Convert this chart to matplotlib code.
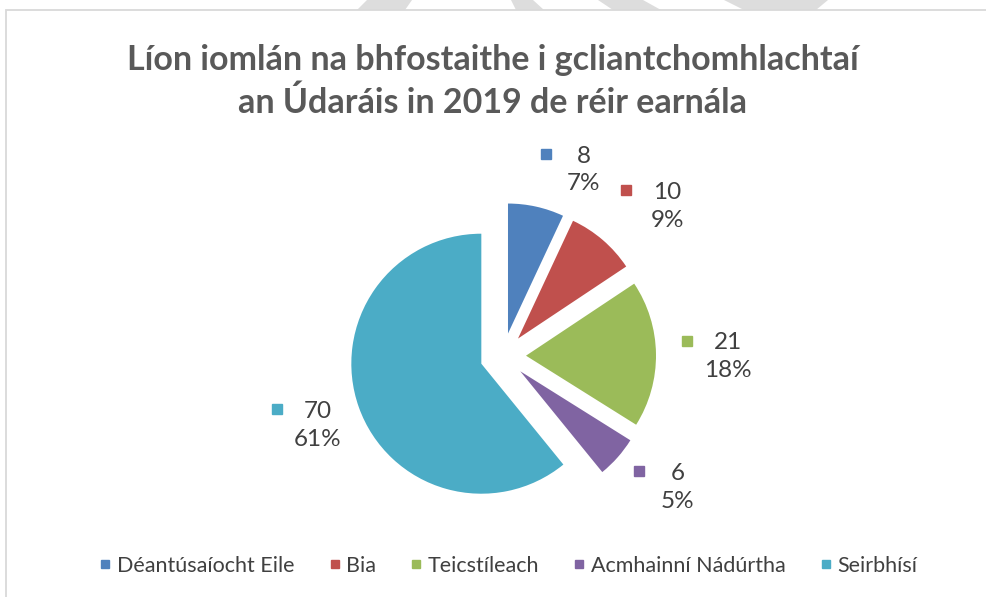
import numpy as np
import matplotlib
matplotlib.use("Agg")
import matplotlib.pyplot as plt
from matplotlib.lines import Line2D
from matplotlib.patches import Rectangle, Polygon

# data
sectors = ["Déantúsaíocht Eile", "Bia", "Teicstíleach", "Acmhainní Nádúrtha", "Seirbhísí"]
employees = [8, 10, 21, 6, 70]
colors = ["#4F81BD", "#C0504D", "#9BBB59", "#8064A2", "#4BACC6"]
title_lines = ["Líon iomlán na bhfostaithe i gcliantchomhlachtaí",
               "an Údaráis in 2019 de réir earnála"]

W, H = 986, 597
plt.rcParams['font.family'] = ['Lato', 'DejaVu Sans']

fig = plt.figure(figsize=(W / 100, H / 100), dpi=100)
fig.patch.set_facecolor("white")

# faint watermark pieces peeking out above the chart frame (pixel coords, y down)
watermark = [
    [(367, 0), (412, 0), (405, 10), (357, 10)],
    [(511, 0), (533, 0), (544, 10), (516, 10)],
    [(598, 0), (643, 0), (661, 10), (613, 10)],
    [(724, 0), (828, 0), (816, 10), (744, 10)],
]
for poly in watermark:
    pts = [(x / W, 1 - y / H) for x, y in poly]
    fig.patches.append(Polygon(pts, closed=True, transform=fig.transFigure,
                               facecolor="#DDDDDD", edgecolor="none", zorder=0))

# chart frame
fig.patches.append(Rectangle((6 / W, -0.05), 1.1, 1 - 10 / H + 0.05,
                             transform=fig.transFigure, facecolor="white",
                             edgecolor="#D9D9D9", linewidth=1.3, zorder=1))

ax = fig.add_axes([0, 0, 1, 1])
ax.set_zorder(2)
ax.patch.set_alpha(0)

R = 130
cx, cy = 503, H - 356
gap = 23

wedges, _ = ax.pie(employees, colors=colors, startangle=90, counterclock=False,
                   radius=R, center=(cx, cy), explode=[gap] * len(employees),
                   wedgeprops=dict(linewidth=0))

ax.set_xlim(0, W)
ax.set_ylim(0, H)
ax.set_aspect('equal')
ax.axis('off')

# data labels (value + percentage with a legend key), "best fit" style
total = sum(employees)
label_dist = [1.56, 1.71, 1.73, 1.68, 1.52]
label_nudge = [11, 7, 1, -4.5, -1]
for w, v, c, d, nd in zip(wedges, employees, colors, label_dist, label_nudge):
    mid = np.deg2rad((w.theta1 + w.theta2) / 2 - nd)
    lx = cx + d * R * np.cos(mid)
    ly = cy + d * R * np.sin(mid)
    pct = round(100 * v / total)
    ax.text(lx, ly, f"{v}\n{pct}%", ha='center', va='center', fontsize=17.5,
            color="#404040", linespacing=1.4)
    ax.plot(lx - 38 - 3 * (len(str(v)) - 1), ly + 16, marker='s', markersize=7,
            color=c, linestyle='none')

# title
fig.text(0.5, 1 - 70 / H, title_lines[0], ha='center', va='baseline',
         fontsize=24.5, fontweight='bold', color="#595959")
fig.text(0.5, 1 - 113 / H, title_lines[1], ha='center', va='baseline',
         fontsize=24.5, fontweight='bold', color="#595959")

handles = [Line2D([0], [0], marker='s', color=c, linestyle='none', markersize=6)
           for c in colors]
fig.legend(handles, sectors, loc='center', bbox_to_anchor=(0.516, 1 - 566 / H),
           ncol=5, frameon=False, fontsize=15.5, handlelength=0.5,
           handletextpad=0.3, columnspacing=1.6, labelcolor="#404040")

fig.savefig("out.png", dpi=100)
